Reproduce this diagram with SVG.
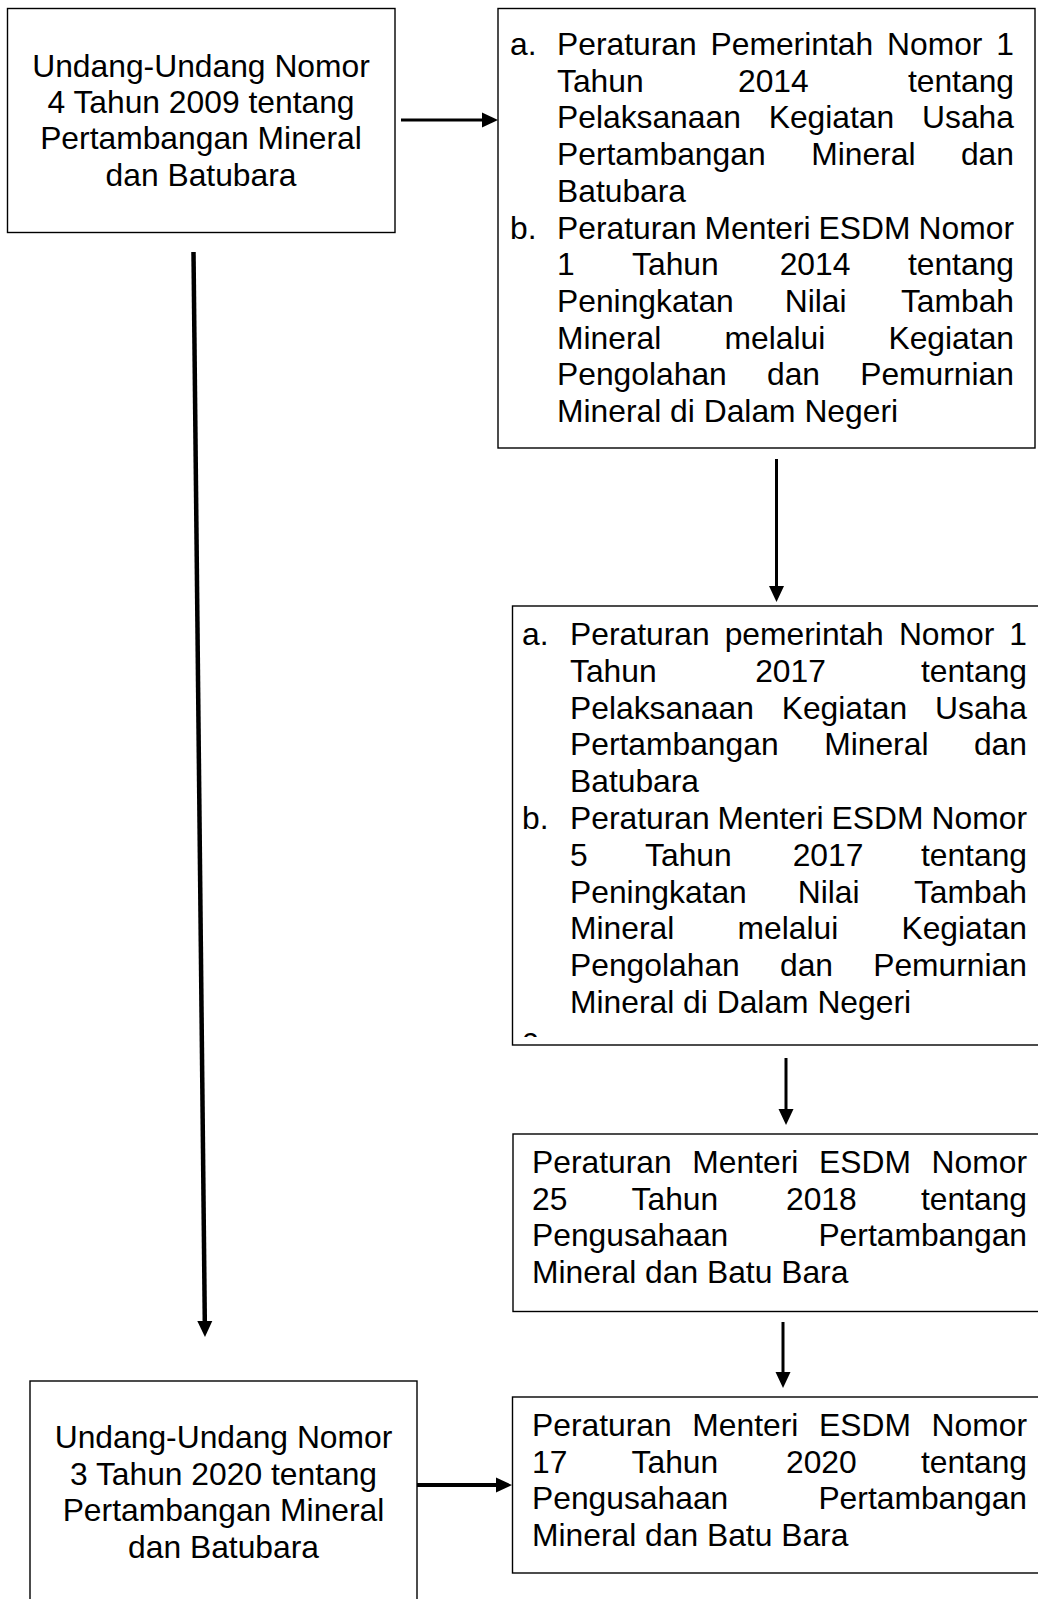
<svg xmlns="http://www.w3.org/2000/svg" width="1038" height="1599" viewBox="0 0 1038 1599">
<style>
.box{fill:#fff;stroke:#000;stroke-width:1.4}
text{font-family:"Liberation Sans",Arial,sans-serif;font-size:31.8px;fill:#000}
.c{text-anchor:middle}
.e{text-anchor:end}
.ln{stroke:#000;fill:none}
</style>
<defs>
<marker id="ah" markerUnits="userSpaceOnUse" markerWidth="17" markerHeight="17" refX="0" refY="8" orient="auto" overflow="visible">
<path d="M0,0.5 L16,8 L0,15.5 z" fill="#000"/>
</marker>
<clipPath id="clip3"><rect x="505" y="600" width="540" height="437"/></clipPath>
</defs>
<rect width="1038" height="1599" fill="#fff"/>

<g id="n1">
<rect class="box" x="7.5" y="8.5" width="387.5" height="224"/>
<text class="c" x="201" y="76.5">Undang-Undang Nomor</text>
<text class="c" x="201" y="112.8">4 Tahun 2009 tentang</text>
<text class="c" x="201" y="149.1">Pertambangan Mineral</text>
<text class="c" x="201" y="185.5">dan Batubara</text>
</g>

<g id="n2">
<rect class="box" x="498" y="8.5" width="537" height="439.5"/>
<text x="510" y="55">a.</text>
<text x="557" y="55">Peraturan</text><text x="710.5" y="55">Pemerintah</text><text x="887" y="55">Nomor</text><text class="e" x="1014" y="55">1</text>
<text x="557" y="91.7">Tahun</text><text x="738" y="91.7">2014</text><text class="e" x="1014" y="91.7">tentang</text>
<text x="557" y="128.4">Pelaksanaan</text><text x="768.7" y="128.4">Kegiatan</text><text class="e" x="1014" y="128.4">Usaha</text>
<text x="557" y="165.1">Pertambangan</text><text x="811.2" y="165.1">Mineral</text><text class="e" x="1014" y="165.1">dan</text>
<text x="557" y="201.8">Batubara</text>
<text x="510" y="238.5">b.</text>
<text x="557" y="238.5">Peraturan</text><text x="704.6" y="238.5">Menteri</text><text x="818.6" y="238.5">ESDM</text><text class="e" x="1014" y="238.5">Nomor</text>
<text x="557" y="275.2">1</text><text x="632.1" y="275.2">Tahun</text><text x="779.7" y="275.2">2014</text><text class="e" x="1014" y="275.2">tentang</text>
<text x="557" y="311.9">Peningkatan</text><text x="784.7" y="311.9">Nilai</text><text class="e" x="1014" y="311.9">Tambah</text>
<text x="557" y="348.6">Mineral</text><text x="724.5" y="348.6">melalui</text><text class="e" x="1014" y="348.6">Kegiatan</text>
<text x="557" y="385.3">Pengolahan</text><text x="767" y="385.3">dan</text><text class="e" x="1014" y="385.3">Pemurnian</text>
<text x="557" y="422">Mineral di Dalam Negeri</text>
</g>

<g id="n3">
<rect class="box" x="512.5" y="606" width="540" height="439"/>
<g clip-path="url(#clip3)">
<text x="522" y="645">a.</text>
<text x="570" y="645">Peraturan</text><text x="724.7" y="645">pemerintah</text><text x="898.9" y="645">Nomor</text><text class="e" x="1027" y="645">1</text>
<text x="570" y="681.8">Tahun</text><text x="755.2" y="681.8">2017</text><text class="e" x="1027" y="681.8">tentang</text>
<text x="570" y="718.6">Pelaksanaan</text><text x="781.7" y="718.6">Kegiatan</text><text class="e" x="1027" y="718.6">Usaha</text>
<text x="570" y="755.4">Pertambangan</text><text x="824.2" y="755.4">Mineral</text><text class="e" x="1027" y="755.4">dan</text>
<text x="570" y="792.2">Batubara</text>
<text x="522" y="829">b.</text>
<text x="570" y="829">Peraturan</text><text x="717.6" y="829">Menteri</text><text x="831.6" y="829">ESDM</text><text class="e" x="1027" y="829">Nomor</text>
<text x="570" y="865.8">5</text><text x="645.1" y="865.8">Tahun</text><text x="792.7" y="865.8">2017</text><text class="e" x="1027" y="865.8">tentang</text>
<text x="570" y="902.6">Peningkatan</text><text x="797.7" y="902.6">Nilai</text><text class="e" x="1027" y="902.6">Tambah</text>
<text x="570" y="939.4">Mineral</text><text x="737.5" y="939.4">melalui</text><text class="e" x="1027" y="939.4">Kegiatan</text>
<text x="570" y="976.2">Pengolahan</text><text x="780" y="976.2">dan</text><text class="e" x="1027" y="976.2">Pemurnian</text>
<text x="570" y="1013">Mineral di Dalam Negeri</text>
<text x="522" y="1050">c.</text>
</g>
</g>

<g id="n4">
<rect class="box" x="513" y="1134" width="540" height="177.5"/>
<text x="532" y="1173">Peraturan</text><text x="692.3" y="1173">Menteri</text><text x="819" y="1173">ESDM</text><text class="e" x="1027" y="1173">Nomor</text>
<text x="532" y="1209.5">25</text><text x="631.6" y="1209.5">Tahun</text><text x="786" y="1209.5">2018</text><text class="e" x="1027" y="1209.5">tentang</text>
<text x="532" y="1246">Pengusahaan</text><text class="e" x="1027" y="1246">Pertambangan</text>
<text x="532" y="1282.5">Mineral dan Batu Bara</text>
</g>

<g id="n5">
<rect class="box" x="512.5" y="1397" width="540" height="176"/>
<text x="532" y="1436">Peraturan</text><text x="692.3" y="1436">Menteri</text><text x="819" y="1436">ESDM</text><text class="e" x="1027" y="1436">Nomor</text>
<text x="532" y="1472.5">17</text><text x="631.6" y="1472.5">Tahun</text><text x="786" y="1472.5">2020</text><text class="e" x="1027" y="1472.5">tentang</text>
<text x="532" y="1509">Pengusahaan</text><text class="e" x="1027" y="1509">Pertambangan</text>
<text x="532" y="1545.5">Mineral dan Batu Bara</text>
</g>

<g id="n6">
<rect class="box" x="30" y="1381" width="387" height="240"/>
<text class="c" x="223.5" y="1448">Undang-Undang Nomor</text>
<text class="c" x="223.5" y="1484.5">3 Tahun 2020 tentang</text>
<text class="c" x="223.5" y="1521">Pertambangan Mineral</text>
<text class="c" x="223.5" y="1557.5">dan Batubara</text>
</g>

<g id="connectors">
<line class="ln" x1="401" y1="120" x2="482" y2="120" stroke-width="3" marker-end="url(#ah)"/>
<line class="ln" x1="776.5" y1="459" x2="776.5" y2="586" stroke-width="3" marker-end="url(#ah)"/>
<line class="ln" x1="786" y1="1058" x2="786" y2="1109" stroke-width="3" marker-end="url(#ah)"/>
<line class="ln" x1="783" y1="1322" x2="783" y2="1372" stroke-width="3" marker-end="url(#ah)"/>
<line class="ln" x1="417" y1="1485" x2="496" y2="1485" stroke-width="4" marker-end="url(#ah)"/>
<line class="ln" x1="193.5" y1="252" x2="204.8" y2="1321" stroke-width="4.5" marker-end="url(#ah)"/>
</g>
</svg>
